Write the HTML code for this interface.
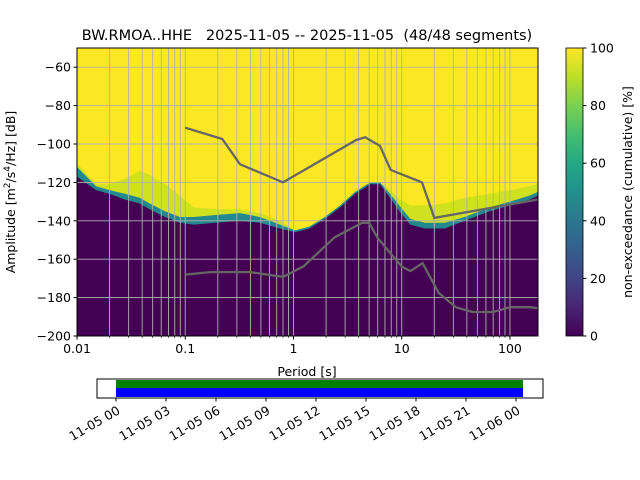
<!DOCTYPE html>
<html><head><meta charset="utf-8"><style>
html,body{margin:0;padding:0;background:#fff;}
svg{display:block;font-family:"DejaVu Sans","Liberation Sans",sans-serif;}
</style></head><body>
<svg id="chart" width="640" height="480" viewBox="0 0 640 480">
<defs>
<clipPath id="plotclip"><rect x="77" y="48" width="461" height="288"/></clipPath>
<linearGradient id="viridis" x1="0" y1="1" x2="0" y2="0">
<stop offset="0" stop-color="#440154"/><stop offset="0.1" stop-color="#482475"/><stop offset="0.2" stop-color="#414487"/><stop offset="0.3" stop-color="#355f8d"/><stop offset="0.4" stop-color="#2a788e"/><stop offset="0.5" stop-color="#21918c"/><stop offset="0.6" stop-color="#22a884"/><stop offset="0.7" stop-color="#44bf70"/><stop offset="0.8" stop-color="#7ad151"/><stop offset="0.9" stop-color="#bddf26"/><stop offset="1" stop-color="#fde725"/>
</linearGradient>
</defs>
<text x="307" y="40" font-size="14.5" text-anchor="middle" style="white-space:pre" xml:space="preserve">BW.RMOA..HHE   2025-11-05 -- 2025-11-05  (48/48 segments)</text>
<g id="heat" clip-path="url(#plotclip)"></g>
<g id="grid"></g>
<g id="lines" clip-path="url(#plotclip)"></g>
<rect x="77" y="48" width="461" height="288" fill="none" stroke="#000" stroke-width="1"/>
<g id="axes" font-size="12.5"></g>
<text x="307" y="376" font-size="12.5" text-anchor="middle">Period [s]</text>
<text transform="translate(15,192) rotate(-90)" font-size="12.5" text-anchor="middle">Amplitude [m<tspan font-size="9" dy="-5">2</tspan><tspan dy="5">/s</tspan><tspan font-size="9" dy="-5">4</tspan><tspan dy="5">/Hz] [dB]</tspan></text>
<rect x="566" y="48" width="17" height="288" fill="url(#viridis)" stroke="#000" stroke-width="0.8"/>
<g id="cbar" font-size="12.5"></g>
<text transform="translate(632,192) rotate(-90)" font-size="12.5" text-anchor="middle">non-exceedance (cumulative) [%]</text>
<g id="timebar"></g>
</svg>
<script>
const periods = [0.01,0.015,0.02,0.028,0.038,0.047,0.065,0.089,0.12,0.19,0.32,0.49,0.75,1.03,1.4,1.95,2.7,3.7,5.1,6.3,7.8,9.8,12,16.3,25,38,65,100,150,181];
const p0dB =   [-117,-124,-126,-129,-131,-134,-138,-141,-142,-141,-140,-141,-144,-146,-144,-139,-133,-126,-121,-121,-128,-136,-142,-144,-144,-140,-135,-132,-129,-127];
const bandDB = [-112,-122,-124,-126,-128,-131,-135,-138,-138,-137,-136,-138,-142,-145,-143,-138,-132,-125,-120,-120,-126,-133,-139,-141,-141,-138,-133,-130,-127,-125];
const greenDB =[-110,-121,-121,-118,-114,-116,-121,-127,-133,-134,-134,-136,-140,-145,-143,-138,-132,-125,-120,-120,-124,-129,-132,-132,-131,-128,-126,-124,-122,-121];
const nhnmP = [0.1,0.22,0.32,0.8,3.8,4.6,6.3,7.9,15.4,20,354.8];
const nhnmDB = [-91.5,-97.4,-110.5,-120,-97.9,-96.5,-101,-113.5,-120,-138.5,-126];
const nlnmP = [0.1,0.17,0.4,0.8,1.24,2.4,4.3,5,6,10,12,15.6,21.9,31.6,45,70,101,154,328];
const nlnmDB = [-168,-166.7,-166.7,-169.2,-163.7,-148.6,-141.1,-141.1,-149,-163.8,-166.2,-162.1,-177.5,-185,-187.5,-187.5,-185,-185,-187.5];
const yTicks = [-60,-80,-100,-120,-140,-160,-180,-200];
const xTicks = [0.01,0.1,1,10,100];
const xTickLabels = ["0.01","0.1","1","10","100"];
const cTicks = [0,20,40,60,80,100];
const timeLabels = ["11-05 00","11-05 03","11-05 06","11-05 09","11-05 12","11-05 15","11-05 18","11-05 21","11-06 00"];

const NS="http://www.w3.org/2000/svg";
const X0=77,X1=538,Y0=48,Y1=336;
const xLo=Math.log10(0.01), xHi=Math.log10(181.6);
function xs(p){return X0+(Math.log10(p)-xLo)/(xHi-xLo)*(X1-X0);}
function ys(d){return Y0+(-50-d)/150*(Y1-Y0);}
function mk(tag,attrs,parent){const e=document.createElementNS(NS,tag);for(const k in attrs)e.setAttribute(k,attrs[k]);parent.appendChild(e);return e;}

const heat=document.getElementById('heat');
let r=mk('rect',{x:X0,y:Y0,width:X1-X0,height:Y1-Y0,fill:'#fde725'},heat);


function area(arr,fill,name){
  let pts=periods.map((p,i)=>xs(p).toFixed(1)+','+ys(arr[i]).toFixed(1));
  pts.push(xs(periods[periods.length-1]).toFixed(1)+','+Y1);
  pts.push(X0+','+Y1);
  const e=mk('polygon',{points:pts.join(' '),fill:fill},heat);
  
  
}
area(greenDB,'#cfe11f','heat-green-band');
area(bandDB,'#23898e','heat-teal-band');
area(p0dB,'#440154','heat-purple');

const grid=document.getElementById('grid');
for(let d=0;d<5;d++){for(let m=1;m<10;m++){const p=Math.pow(10,d-2)*m;if(p>181.6)continue;const x=xs(p);
 const l=mk('line',{x1:x,x2:x,y1:Y0,y2:Y1,stroke:'#b0b0b0','stroke-width':0.9},grid);
 
 }}
yTicks.forEach(t=>{const y=ys(t);const l=mk('line',{x1:X0,x2:X1,y1:y,y2:y,stroke:'#b0b0b0','stroke-width':0.9},grid);
 
 });

const lines=document.getElementById('lines');
function pl(P,D,name){const e=mk('polyline',{points:P.map((p,i)=>xs(p).toFixed(1)+','+ys(D[i]).toFixed(1)).join(' '),fill:'none',stroke:'#666','stroke-width':2.3},lines);
 
 }
pl(nhnmP,nhnmDB,'nhnm-line');
pl(nlnmP,nlnmDB,'nlnm-line');

const axes=document.getElementById('axes');
yTicks.forEach(t=>{const y=ys(t);mk('line',{x1:X0-3.5,x2:X0,y1:y,y2:y,stroke:'#000'},axes);
 const tx=mk('text',{x:X0-6,y:y+4.5,'text-anchor':'end'},axes);tx.textContent=String(t).replace('-','\u2212');
 
 });
xTicks.forEach((t,i)=>{const x=xs(t);mk('line',{x1:x,x2:x,y1:Y1,y2:Y1+3.5,stroke:'#000'},axes);
 const tx=mk('text',{x:x,y:Y1+17,'text-anchor':'middle'},axes);tx.textContent=xTickLabels[i];
 
 });
for(let d=0;d<5;d++){for(let m=2;m<10;m++){const p=Math.pow(10,d-2)*m;if(p>181.6)continue;const x=xs(p);mk('line',{x1:x,x2:x,y1:Y1,y2:Y1+2,stroke:'#000','stroke-width':0.6},axes);}}

const cbar=document.getElementById('cbar');
cTicks.forEach(t=>{const y=336-t/100*288;mk('line',{x1:583,x2:586.5,y1:y,y2:y,stroke:'#000'},cbar);
 const tx=mk('text',{x:590,y:y+4.5},cbar);tx.textContent=t;
 
 });

const tb=document.getElementById('timebar');
let b=mk('rect',{x:97,y:379,width:446,height:19,fill:'#fff',stroke:'#000','stroke-width':1},tb);


b=mk('rect',{x:116,y:380,width:407,height:8,fill:'#008000'},tb);


b=mk('rect',{x:116,y:388,width:407,height:9,fill:'#0000ff'},tb);


timeLabels.forEach((t,i)=>{const x=116+i*50;mk('line',{x1:x,x2:x,y1:398,y2:401.5,stroke:'#000'},tb);
 const tx=mk('text',{x:0,y:0,'text-anchor':'end','font-size':12.5,transform:`translate(${x+5},${413}) rotate(-30)`},tb);tx.textContent=t;
 
 });
</script>
</body></html>
